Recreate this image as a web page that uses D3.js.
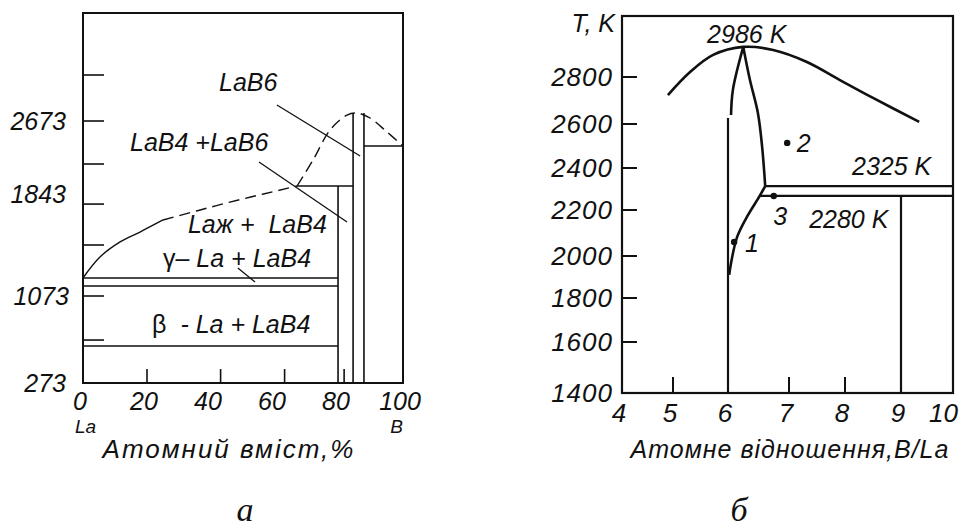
<!DOCTYPE html>
<html>
<head>
    <title>La-B phase diagrams</title>
    <script src="https://d3js.org/d3.v7.min.js"></script>
    <style>
        body { margin: 0; background: #fff; }
        text { font-family: "Liberation Sans", Arial, sans-serif; font-style: italic; fill: #111; }
        .cap { font-family: "Liberation Serif", "Times New Roman", serif; }
    </style>
</head>
<body>
    <svg width="960" height="529"></svg>
    <script>

        // ---- panel a: atomic content, % B  vs  T, K ----
        const aXLabels = [0, 20, 40, 60, 80, 100];
        const aXTickMarks = [20, 43, 63, 81.6];
        const aYLabels = [273, 1073, 1843, 2673];
        const aYTickMarks = [3196, 2673, 2184, 1767, 1458, 1073, 668];

        const aLiquidusSolid = [[0, 1209], [5.3, 1367], [11.6, 1481], [17.8, 1556], [25, 1647]];
        const aLiquidusDash = [[25, 1647], [35.5, 1715], [45.9, 1782], [56.4, 1843], [66.9, 1934]];
        const aHumpDash = [[66.9, 1934], [71.9, 2230], [77.2, 2571], [82.5, 2741], [85.6, 2764],
                           [89.7, 2707], [95, 2548], [100, 2389]];
        const aVerticals = [[79.7, 1934], [84.4, 2764], [87.8, 2764]];      // x, top T (down to 273)
        const aHorizontals = [[1934, 66.9, 84.4], [2389, 87.8, 100], [1209, 0, 79.7],
                              [1148, 0, 79.7], [613, 0, 79.7]];              // T, x from, x to
        const aPointers = [[60.6, 2855, 86.6, 2275], [55, 2207, 82.5, 1631], [48.4, 1284, 53.75, 1179]];
        const aLabels = [
            { x: 42.5, t: 3014, parts: [["LaB6", true]] },
            { x: 14.7, t: 2332, parts: [["LaB4 +LaB6", true]] },
            { x: 32.8, t: 1548, parts: [["Laж +  LaB4", true]] },
            { x: 25, t: 1292, parts: [["γ", false], ["– La + LaB4", true]] },
            { x: 21.6, t: 733, parts: [["β", false], ["  - La + LaB4", true]] }
        ];

        // ---- panel b: atomic ratio B/La  vs  T, K ----
        const bXLabels = [4, 5, 6, 7, 8, 9, 10];
        const bXTickMarks = [5, 6, 7, 8, 9];
        const bYLabels = [1400, 1600, 1800, 2000, 2200, 2400, 2600, 2800];

        const bLiquidus = [[4.9, 2723], [5.31, 2821], [5.73, 2894], [6.25, 2928], [6.74, 2915],
                           [7.32, 2864], [7.91, 2787], [8.5, 2711], [9.35, 2609]];
        const bLeftBranch = [[6.25, 2928], [6.08, 2745], [6.05, 2638]];
        const bRightBranch = [[6.25, 2928], [6.36, 2787], [6.49, 2647], [6.56, 2495], [6.61, 2314]];
        const bLowerBranch = [[6.61, 2314], [6.52, 2267], [6.31, 2170], [6.15, 2083], [6.05, 1967], [6.02, 1910]];
        const bLines = [[[6, 2626], [6, 1400]], [[6.61, 2314], [10, 2314]],
                        [[6.52, 2267], [10, 2267]], [[9, 2267], [9, 1400]]];
        const bPoints = [{ name: "1", x: 6.1, t: 2061, lx: 6.28, lt: 2017 },
                         { name: "2", x: 6.97, t: 2514, lx: 7.14, lt: 2473 },
                         { name: "3", x: 6.75, t: 2267, lx: 6.74, lt: 2135 }];
        const bTempLabels = [{ text: "2986 K", x: 5.62, t: 2945 },
                             { text: "2325 K", x: 8.125, t: 2367 },
                             { text: "2280 K", x: 7.36, t: 2122 }];

        const svg = d3.select("svg");

        // ================= panel a =================
        const xA = d3.scaleLinear().domain([0, 100]).range([83, 403]);
        const yA = d3.scaleLinear().domain(aYLabels).range([383, 296, 194, 121]);
        const aTop = 13;
        const ga = svg.append("g");

        const lineA = d3.line().x(d => xA(d[0])).y(d => yA(d[1])).curve(d3.curveCatmullRom);

        ga.append("path").datum(aLiquidusSolid).attr("d", lineA)
            .attr("fill", "none").attr("stroke", "#111").attr("stroke-width", 1.4);
        [aLiquidusDash, aHumpDash].forEach(function(seg) {
            ga.append("path").datum(seg).attr("d", lineA)
                .attr("fill", "none").attr("stroke", "#111").attr("stroke-width", 1.4)
                .attr("stroke-dasharray", "11,6");
        });

        ga.selectAll(".vert").data(aVerticals).enter().append("line")
            .attr("x1", d => xA(d[0])).attr("x2", d => xA(d[0]))
            .attr("y1", d => yA(d[1])).attr("y2", yA(273))
            .attr("stroke", "#111").attr("stroke-width", 1.6);
        ga.selectAll(".hor").data(aHorizontals).enter().append("line")
            .attr("x1", d => xA(d[1])).attr("x2", d => xA(d[2]))
            .attr("y1", d => yA(d[0])).attr("y2", d => yA(d[0]))
            .attr("stroke", "#111").attr("stroke-width", 1.6);
        ga.selectAll(".ptr").data(aPointers).enter().append("line")
            .attr("x1", d => xA(d[0])).attr("y1", d => yA(d[1]))
            .attr("x2", d => xA(d[2])).attr("y2", d => yA(d[3]))
            .attr("stroke", "#111").attr("stroke-width", 1.3);

        // frame
        ga.append("rect").attr("x", xA(0)).attr("y", aTop)
            .attr("width", xA(100) - xA(0)).attr("height", yA(273) - aTop)
            .attr("fill", "none").attr("stroke", "#111").attr("stroke-width", 2);

        // tick marks (inward)
        ga.selectAll(".ytick").data(aYTickMarks).enter().append("line")
            .attr("x1", xA(0)).attr("x2", xA(0) + 21)
            .attr("y1", d => yA(d)).attr("y2", d => yA(d))
            .attr("stroke", "#111").attr("stroke-width", 1.6);
        ga.selectAll(".xtick").data(aXTickMarks).enter().append("line")
            .attr("x1", d => xA(d)).attr("x2", d => xA(d))
            .attr("y1", yA(273)).attr("y2", yA(273) - 14)
            .attr("stroke", "#111").attr("stroke-width", 1.6);

        ga.selectAll(".ylab").data(aYLabels).enter().append("text")
            .attr("x", d => d === 1073 ? 69 : 66).attr("y", d => yA(d)).attr("dy", "0.35em")
            .attr("text-anchor", "end").style("font-size", "25px").text(d => d);
        ga.selectAll(".xlab").data(aXLabels).enter().append("text")
            .attr("x", d => xA(d) - 3).attr("y", 410)
            .attr("text-anchor", "middle").style("font-size", "25px").text(d => d);
        ga.append("text").attr("x", xA(0) - 8).attr("y", 433).style("font-size", "19px").text("La");
        ga.append("text").attr("x", xA(100)).attr("y", 433).attr("text-anchor", "end")
            .style("font-size", "19px").text("B");
        ga.append("text").attr("x", 229).attr("y", 458).attr("text-anchor", "middle")
            .style("font-size", "26px").style("letter-spacing", "2px").text("Атомний вміст,%");

        aLabels.forEach(function(l) {
            const t = ga.append("text").attr("x", xA(l.x)).attr("y", yA(l.t))
                .style("font-size", "25px").style("white-space", "pre");
            l.parts.forEach(function(p) {
                t.append("tspan").style("font-style", p[1] ? "italic" : "normal").text(p[0]);
            });
        });

        // ================= panel b =================
        const xB = d3.scaleLinear().domain(bXLabels).range([622, 673, 728, 789, 845, 901, 953]);
        const yB = d3.scaleLinear().domain(bYLabels).range([393, 342, 298, 256, 210, 168, 124, 77]);
        const bTop = 16;
        const gb = svg.append("g");

        const lineB = d3.line().x(d => xB(d[0])).y(d => yB(d[1])).curve(d3.curveCatmullRom);

        [bLiquidus, bLeftBranch, bRightBranch, bLowerBranch].forEach(function(seg) {
            gb.append("path").datum(seg).attr("d", lineB)
                .attr("fill", "none").attr("stroke", "#111").attr("stroke-width", 2.6)
                .attr("stroke-linejoin", "round");
        });
        bLines.forEach(function(seg) {
            gb.append("path").datum(seg).attr("d", d3.line().x(d => xB(d[0])).y(d => yB(d[1])))
                .attr("fill", "none").attr("stroke", "#111").attr("stroke-width", 2.2);
        });

        gb.append("rect").attr("x", xB(4)).attr("y", bTop)
            .attr("width", xB(10) - xB(4)).attr("height", yB(1400) - bTop)
            .attr("fill", "none").attr("stroke", "#111").attr("stroke-width", 2.2);

        gb.selectAll(".ytick").data(bYLabels.slice(1)).enter().append("line")
            .attr("x1", xB(4)).attr("x2", xB(4) + 15)
            .attr("y1", d => yB(d)).attr("y2", d => yB(d))
            .attr("stroke", "#111").attr("stroke-width", 2);
        gb.selectAll(".xtick").data(bXTickMarks).enter().append("line")
            .attr("x1", d => xB(d)).attr("x2", d => xB(d))
            .attr("y1", yB(1400)).attr("y2", yB(1400) - 16)
            .attr("stroke", "#111").attr("stroke-width", 2);

        gb.selectAll(".ylab").data(bYLabels).enter().append("text")
            .attr("x", 613).attr("y", d => yB(d)).attr("dy", "0.35em")
            .attr("text-anchor", "end").style("font-size", "26px").style("letter-spacing", "1px")
            .text(d => d);
        gb.selectAll(".xlab").data(bXLabels).enter().append("text")
            .attr("x", d => d === 10 ? 958 : xB(d) - 3).attr("y", 422)
            .attr("text-anchor", d => d === 10 ? "end" : "middle")
            .style("font-size", "26px").text(d => d);
        gb.append("text").attr("x", 615).attr("y", 32).attr("text-anchor", "end")
            .style("font-size", "25px").text("T, K");
        gb.append("text").attr("x", 790).attr("y", 458).attr("text-anchor", "middle")
            .style("font-size", "25px").style("letter-spacing", "1px").text("Атомне відношення,B/La");

        gb.selectAll(".pt").data(bPoints).enter().append("circle")
            .attr("cx", d => xB(d.x)).attr("cy", d => yB(d.t)).attr("r", 3.2).attr("fill", "#111");
        gb.selectAll(".ptlab").data(bPoints).enter().append("text")
            .attr("x", d => xB(d.lx)).attr("y", d => yB(d.lt))
            .style("font-size", "25px").text(d => d.name);
        gb.selectAll(".tlab").data(bTempLabels).enter().append("text")
            .attr("x", d => xB(d.x)).attr("y", d => yB(d.t))
            .style("font-size", "25px").text(d => d.text);

        // panel captions
        svg.append("text").attr("class", "cap").attr("x", 245).attr("y", 521)
            .attr("text-anchor", "middle").style("font-size", "34px").text("а");
        svg.append("text").attr("class", "cap").attr("x", 739).attr("y", 521)
            .attr("text-anchor", "middle").style("font-size", "34px").text("б");

    </script>
</body>
</html>
